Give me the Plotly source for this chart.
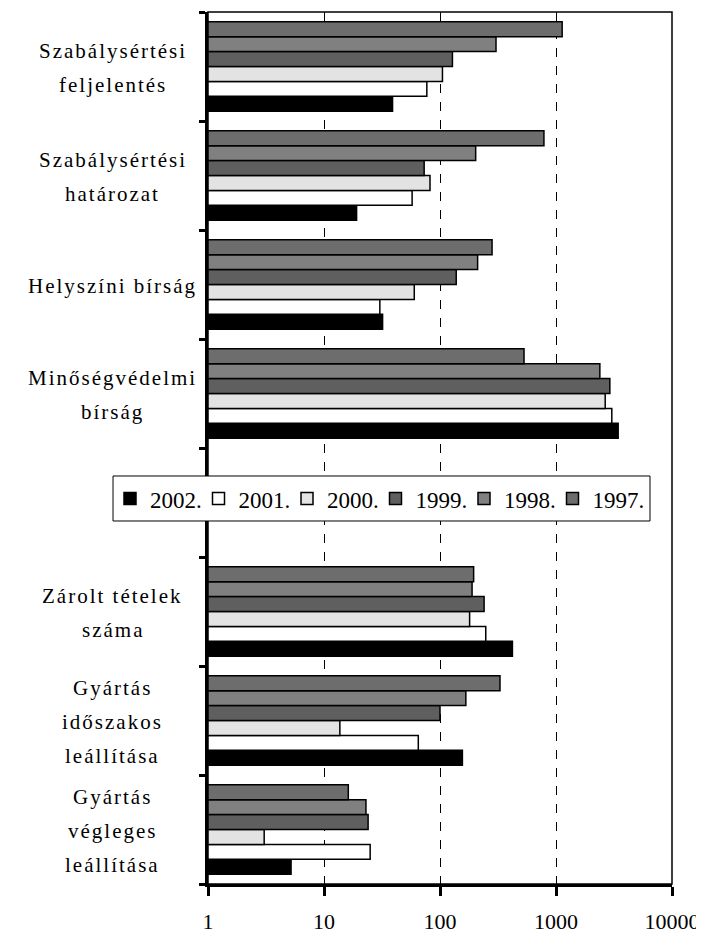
import plotly.graph_objects as go

categories = [
    "Szabálysértési<br>feljelentés",
    "Szabálysértési<br>határozat",
    "Helyszíni bírság",
    "Minőségvédelmi<br>bírság",
    " ",
    "Zárolt tételek<br>száma",
    "Gyártás<br>időszakos<br>leállítása",
    "Gyártás<br>végleges<br>leállítása",
]
data_categories = [c for c in categories if c.strip()]

years = ["2002.", "2001.", "2000.", "1999.", "1998.", "1997."]
v2002 = [39, 19.1, 32, 3435, 421, 156, 5.2]
v2001 = [77, 57.5, 30.3, 3028, 248, 65, 25]
v2000 = [105, 82, 60, 2656, 180, 13.7, 3.05]
v1999 = [128, 73, 138, 2912, 240, 100, 24]
v1998 = [304, 203, 211, 2388, 189, 167, 23]
v1997 = [1130, 787, 281, 530, 195, 329, 16.2]
values = [v2002, v2001, v2000, v1999, v1998, v1997]
colors = ["#000000", "#ffffff", "#e3e3e3", "#5f5f5f", "#808080", "#6d6d6d"]

tick_vals = [1, 10, 100, 1000, 10000]
tick_text = ["1", "10", "100", "1000", "10000"]

FONT = "Liberation Serif"

fig = go.Figure()
legend_ids = ["legend"] + ["legend%d" % (k + 1) for k in range(1, len(years))]
for i, (name, vals, col) in enumerate(zip(years, values, colors)):
    fig.add_trace(go.Bar(
        y=data_categories, x=vals, name=name, orientation="h",
        marker=dict(color=col, line=dict(color="black", width=1.5)),
        legend=legend_ids[i],
    ))

# category labels, centered multi-line
annotations = []
spacing = 34
for c in categories:
    if not c.strip():
        continue
    lines = c.split("<br>")
    n = len(lines)
    for i, line in enumerate(lines):
        annotations.append(dict(
            text='<span style="letter-spacing:2px">' + line + '</span>',
            xref="paper", yref="y", x=-0.205, y=c,
            xanchor="center", yanchor="middle", showarrow=False,
            yshift=-1 - (i - (n - 1) / 2) * spacing,
            font=dict(family=FONT, size=21, color="black"),
        ))

# one single-entry legend per year, laid out in a row inside a shared box
legend_layout = {}
for k, lid in enumerate(legend_ids):
    legend_layout[lid] = dict(
        orientation="h", yanchor="middle", y=0.442, xanchor="left",
        x=-0.2112 + k * 0.19073,
        bgcolor="rgba(0,0,0,0)", borderwidth=0,
        font=dict(family=FONT, size=23, color="black"),
    )

fig.update_layout(
    width=696, height=927,
    margin=dict(l=200, r=32, t=4, b=51),
    paper_bgcolor="white", plot_bgcolor="white",
    barmode="group", bargap=0.18, bargroupgap=0,
    font=dict(family=FONT, size=21, color="black"),
    showlegend=True,
    annotations=annotations,
    shapes=[
        dict(type="rect", xref="x domain", yref="y domain", x0=0, x1=1, y0=0, y1=1,
             line=dict(color="black", width=1.5), layer="above"),
        dict(type="rect", xref="paper", yref="paper", x0=-0.2047, x1=0.9526,
             y0=0.4163, y1=0.4679, line=dict(color="black", width=1),
             fillcolor="white", layer="above"),
    ],
    **legend_layout,
)

fig.update_xaxes(
    type="log", range=[0, 4], tickvals=tick_vals, ticktext=tick_text,
    showgrid=True, gridcolor="black", gridwidth=1, griddash="dash",
    showline=True, linecolor="black", linewidth=3,
    ticks="outside", ticklen=9, tickwidth=3, tickcolor="black",
    tickfont=dict(family=FONT, size=22, color="black"),
    ticklabelstandoff=7, automargin=False,
    zeroline=False,
)
fig.update_yaxes(
    type="category", categoryorder="array", categoryarray=categories[::-1],
    range=[-0.5, len(categories) - 0.5],
    showticklabels=False, showgrid=False, automargin=False,
    showline=True, linecolor="black", linewidth=3,
    ticks="outside", tickson="boundaries", ticklen=6, tickwidth=3, tickcolor="black",
    zeroline=False,
)

fig.write_html("out.html")
